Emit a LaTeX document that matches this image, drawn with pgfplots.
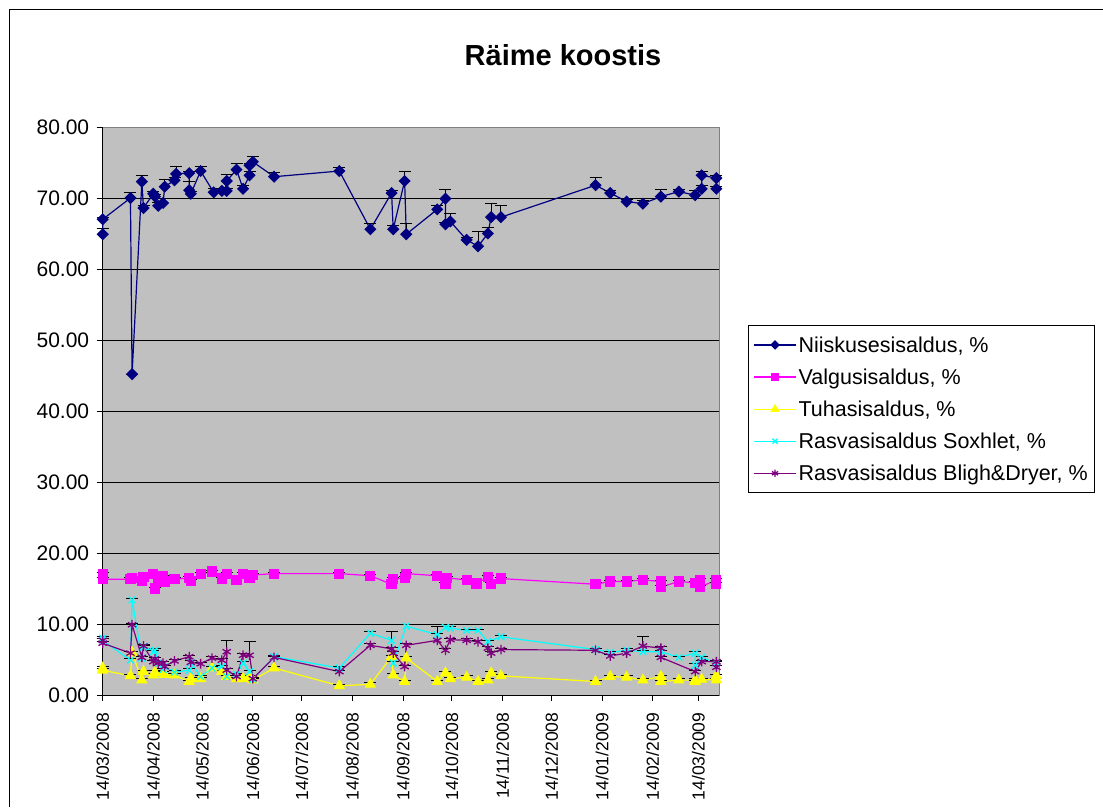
\documentclass[border=0pt]{standalone}
\usepackage{fontspec}
\setmainfont{Liberation Sans}
\usepackage{pgfplots}
\usepackage{pgfplotstable}
\pgfplotsset{compat=1.18}
\definecolor{plotgray}{RGB}{192,192,192}
\definecolor{sNavy}{RGB}{0,0,128}
\definecolor{sMag}{RGB}{255,0,255}
\definecolor{sYel}{RGB}{255,255,0}
\definecolor{sCya}{RGB}{0,255,255}
\definecolor{sPur}{RGB}{128,0,128}

\pgfplotstableread{
x y e
0 64.9 0.8
0 67.0 0.3
17 70.0 0.8
18 45.2 0
24 72.3 0.9
25 68.6 0.3
31 70.6 0.3
32 70.2 0.3
34 68.9 0.5
37 69.3 0.7
38 71.6 1.0
44 72.5 0.4
45 73.4 1.0
53 73.5 0.3
53 71.1 1.2
54 70.6 0.3
60 73.8 0.6
68 70.8 0.6
73 71.0 0.3
76 71.0 0.3
76 72.4 0.9
82 74.0 0.9
86 71.3 0.5
90 73.2 0.6
90 74.6 0.3
92 75.1 0.7
105 73.0 0.6
145 73.8 0.5
164 65.6 0.8
177 70.7 0.3
178 65.6 0.5
185 72.4 1.4
186 64.9 1.5
205 68.4 0.5
210 69.9 1.3
210 66.3 0.3
213 66.7 1.1
223 64.1 0.4
230 63.2 2.1
236 65.0 0.9
238 67.3 1.9
244 67.3 1.7
302 71.8 1.1
311 70.7 0.3
321 69.5 0.3
331 69.2 0.5
342 70.2 1.0
353 70.9 0.3
363 70.4 0.6
367 71.3 0.5
367 73.2 0.6
376 72.8 0.4
376 71.3 0.3
}\niisk

\pgfplotstableread{
x y e
0 17.1 0.2
0 16.3 0.2
17 16.3 0.2
18 16.5 0.2
24 16.1 0.2
25 16.6 0.2
31 17.1 0.2
32 15.0 0.2
34 16.4 0.2
37 16.7 0.2
38 16.0 0.2
44 16.3 0.2
53 16.5 0.2
54 16.1 0.2
60 17.0 0.2
67 17.4 0.2
73 16.4 0.2
76 17.1 0.2
82 16.2 0.2
86 17.0 0.2
90 16.5 0.2
92 16.9 0.2
105 17.1 0.2
145 17.1 0.2
164 16.8 0.2
177 15.6 0.2
178 16.3 0.2
185 16.5 0.2
186 17.1 0.2
205 16.8 0.2
210 15.7 0.2
211 16.5 0.2
223 16.2 0.2
229 15.7 0.2
236 16.6 0.2
238 15.6 0.2
244 16.4 0.2
302 15.6 0.2
311 16.0 0.2
321 16.0 0.2
331 16.2 0.2
342 16.0 0.2
342 15.2 0.2
353 16.0 0.2
363 15.8 0.2
366 16.2 0.2
366 15.2 0.2
376 16.2 0.2
376 15.6 0.2
}\valgus

\pgfplotstableread{
x y e
0 3.8 0.2
0 3.5 0.2
17 2.7 0.2
18 6.0 0.2
24 2.1 0.2
25 3.3 0.2
31 2.8 0.2
32 3.2 0.2
37 3.1 0.2
38 2.9 0.2
44 2.8 0.2
53 1.9 0.2
54 2.3 0.2
60 2.3 0.2
67 3.8 0.2
73 3.3 0.2
76 2.6 0.2
82 2.3 0.2
86 2.3 0.2
90 2.6 0.2
92 2.1 0.2
105 3.8 0.2
145 1.3 0.2
164 1.5 0.2
177 5.4 0.2
178 2.8 0.2
185 1.9 0.2
186 5.2 0.2
205 1.9 0.2
210 3.1 0.2
213 2.3 0.2
223 2.5 0.2
230 1.9 0.2
236 2.1 0.2
238 3.1 0.2
244 2.7 0.2
302 1.9 0.2
311 2.6 0.2
321 2.5 0.2
331 2.1 0.2
342 2.6 0.2
342 1.9 0.2
353 2.1 0.2
363 2.1 0.2
363 1.9 0.2
367 2.2 0.2
376 2.1 0.2
376 2.7 0.2
}\tuhk

\pgfplotstableread{
x y e
0 8.0 0.2
0 7.7 0.2
17 4.9 0.2
18 13.4 0.2
24 5.2 0.2
25 6.8 0.2
31 6.1 0.2
32 6.3 0.2
34 4.5 0.2
37 3.6 0.2
38 4.0 0.2
44 3.2 0.2
53 3.5 0.2
54 4.6 0.2
60 2.6 0.2
67 3.8 0.2
73 4.0 0.2
76 2.6 0.2
82 2.9 0.2
86 4.5 0.2
90 3.3 0.2
92 2.2 0.2
105 5.4 0.2
145 3.8 0.2
164 8.7 0.2
177 7.7 1.2
178 4.5 0.2
186 9.7 0.2
205 8.5 0.2
210 9.5 0.2
213 9.4 0.2
223 9.1 0.2
230 9.1 0.2
236 7.5 0.2
244 8.2 0.2
302 6.4 0.2
311 6.0 0.2
321 6.3 0.2
331 6.1 0.2
342 6.1 0.2
353 5.3 0.2
363 5.9 0.2
363 4.2 0.2
367 5.3 0.2
376 4.5 0.2
}\soxh

\pgfplotstableread{
x y e
0 7.7 0.2
0 7.3 0.2
17 5.9 0.2
18 9.9 0.2
24 5.3 0.2
25 6.9 0.2
31 4.7 0.2
32 5.1 0.2
34 4.5 0.2
37 4.5 0.2
38 4.0 0.2
44 4.8 0.2
53 5.4 0.2
54 4.6 0.2
60 4.4 0.2
67 5.2 0.2
73 4.9 0.2
76 6.1 1.6
76 3.5 0.2
82 2.6 0.2
86 5.6 0.2
90 5.6 2.0
92 2.3 0.2
105 5.3 0.2
145 3.3 0.2
164 7.0 0.2
177 6.5 0.2
178 5.9 0.2
185 4.0 0.2
186 7.0 0.2
205 7.7 1.9
210 6.3 0.2
213 7.8 0.2
223 7.7 0.2
230 7.5 0.2
236 6.6 0.2
238 5.9 0.2
244 6.4 0.2
302 6.3 0.2
311 5.5 0.2
321 5.9 0.2
331 6.9 1.4
342 6.6 0.2
342 5.3 0.2
363 3.3 0.2
367 4.7 0.2
376 4.7 0.2
376 3.9 0.2
}\bligh

\pgfplotsset{
  errb/.style={
    error bars/y dir=plus,
    error bars/y explicit,
    error bars/error mark=|,
    error bars/error bar style={black, line width=0.9pt, solid},
    error bars/error mark options={black, mark size=6pt, line width=0.9pt, solid},
  }
}

\begin{document}
\begin{tikzpicture}
\useasboundingbox (0pt,0pt) rectangle (1103pt,-807pt);
\draw[black, line width=1pt] (9pt,-807pt) -- (9pt,-9pt) -- (1103pt,-9pt);
\node[font=\bfseries\fontsize{29}{34}\selectfont] at (563pt,-55pt) {Räime koostis};
\begin{axis}[
  at={(102.7pt,-695pt)}, anchor=south west,
  scale only axis, width=616.6pt, height=568pt,
  xmin=0, xmax=377.8, ymin=0, ymax=80,
  clip=false,
  axis background/.style={fill=plotgray},
  axis line style={draw=gray, line width=1pt},
  ymajorgrids, major grid style={black, line width=0.9pt},
  ytick={0,10,...,80},
  xtick={0,31,61,92,122,153,184,214,245,275,306,337,365},
  xticklabels={14/03/2008,14/04/2008,14/05/2008,14/06/2008,14/07/2008,14/08/2008,14/09/2008,14/10/2008,14/11/2008,14/12/2008,14/01/2009,14/02/2009,14/03/2009},
  xtick pos=left, ytick pos=left,
  tick align=outside, major tick length=6pt,
  tick style={black, line width=1pt},
  yticklabel style={font=\fontsize{21}{25}\selectfont, xshift=-4pt, /pgf/number format/fixed, /pgf/number format/fixed zerofill, /pgf/number format/precision=2, /pgf/number format/assume math mode=true},
  xticklabel style={font=\fontsize{17.5}{21}\selectfont, rotate=90, anchor=east},
  xticklabel shift=8pt,
  legend style={at={(1.0466,0.6514)}, anchor=north west, draw=black, line width=0.8pt, fill=white,
    font=\fontsize{21.5}{25}\selectfont, row sep=11pt, inner xsep=5pt, inner ysep=9pt, cells={anchor=west}},
  legend image code/.code={\draw[mark repeat=2, mark phase=2, #1, every mark/.append style={scale=0.75}] plot coordinates {(0pt,0pt) (21pt,0pt) (42pt,0pt)};},
]
\draw[black, line width=1pt] (rel axis cs:0,1) -- (rel axis cs:0,0) -- (rel axis cs:1,0);
\addplot[color=sNavy, line width=1.2pt, mark=square*, mark size=3.7pt, mark options={rotate=45, solid, fill=sNavy}, errb] table[x=x, y=y, y error=e] {\niisk};
\addlegendentry{Niiskusesisaldus, \%}
\addplot[color=sMag, line width=1.2pt, mark=square*, mark size=4.5pt, mark options={solid, fill=sMag}, errb] table[x=x, y=y, y error=e] {\valgus};
\addlegendentry{Valgusisaldus, \%}
\addplot[color=sYel, line width=1.2pt, mark=triangle*, mark size=5.5pt, mark options={solid, fill=sYel}, errb] table[x=x, y=y, y error=e] {\tuhk};
\addlegendentry{Tuhasisaldus, \%}
\addplot[color=sCya, line width=1.2pt, mark=x, mark size=4.8pt, mark options={solid, line width=1.3pt}, errb] table[x=x, y=y, y error=e] {\soxh};
\addlegendentry{Rasvasisaldus Soxhlet, \%}
\addplot[color=sPur, line width=1.2pt, mark=asterisk, mark size=4.8pt, mark options={solid, line width=1.3pt}, errb] table[x=x, y=y, y error=e] {\bligh};
\addlegendentry{Rasvasisaldus Bligh\&Dryer, \%}
\end{axis}
\end{tikzpicture}
\end{document}
